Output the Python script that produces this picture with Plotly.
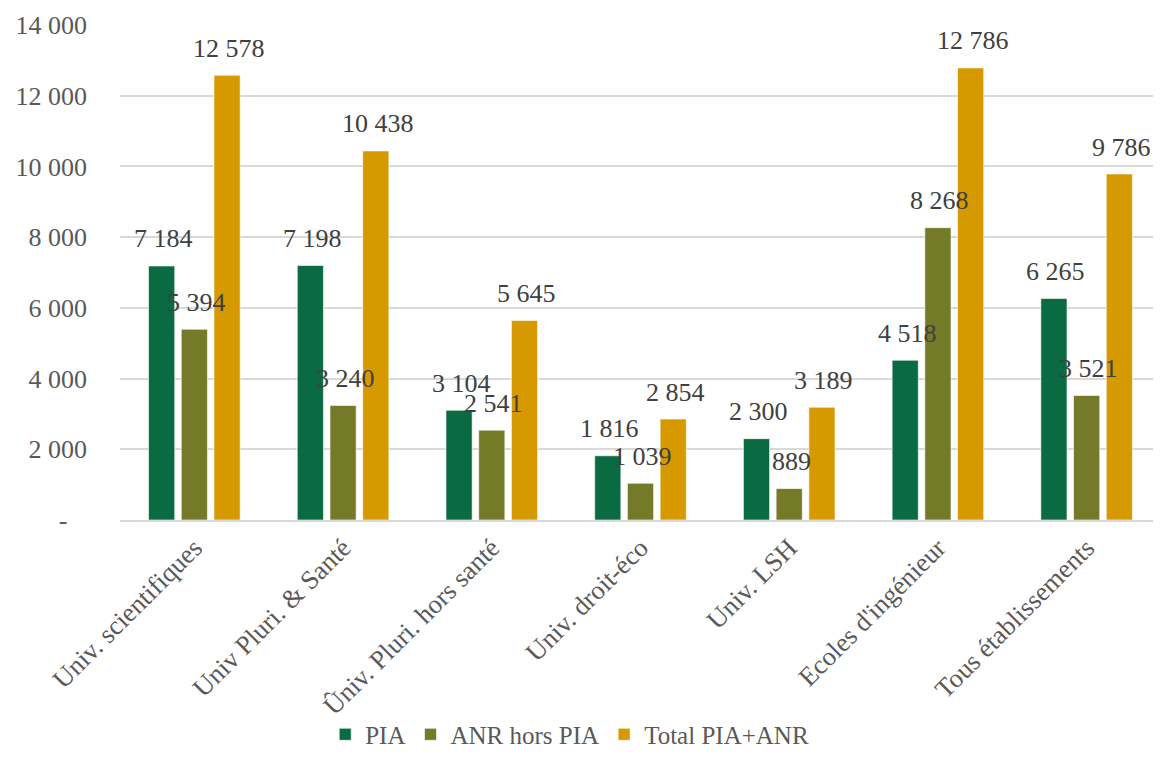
import plotly.graph_objects as go

categories = ["Univ. scientifiques", "Univ Pluri. & Santé", "Ûniv. Pluri. hors santé",
              "Univ. droit-éco", "Univ. LSH", "Ecoles d'ingénieur", "Tous établissements"]
pia = [7184, 7198, 3104, 1816, 2300, 4518, 6265]
anr = [5394, 3240, 2541, 1039, 889, 8268, 3521]
total = [12578, 10438, 5645, 2854, 3189, 12786, 9786]
series_names = ["PIA", "ANR hors PIA", "Total PIA+ANR"]
colors = ["#0a6b43", "#757a28", "#d69a00"]
tick_vals = [0, 2000, 4000, 6000, 8000, 10000, 12000, 14000]
tick_text = ["-\u00a0\u00a0\u00a0", "2 000", "4 000", "6 000", "8 000", "10 000", "12 000", "14 000"]

def fmt(v):
    return f"{v:,}".replace(",", " ")

FONT = "Liberation Serif"
FS = 26
# page body has an 8px margin; size the figure to fill the rest of the window
W, H = 1153, 758
ML, MR, MT, MB = 112, 0, 17, 246
BARGAP, GROUPGAP = 0.34, 0.2

fig = go.Figure()
for name, vals, col in zip(series_names, [pia, anr, total], colors):
    fig.add_trace(go.Bar(
        x=categories, y=vals, name=name,
        marker=dict(color=col, line=dict(color="rgba(255,255,255,0.6)", width=1)),
        hoverinfo="x+y",
    ))

# data labels on top of all bars (annotations drawn above traces)
cat_w = (W - ML - MR) / len(categories)
pitch = cat_w * (1 - BARGAP) / len(series_names)
annotations = []
for i, vals in enumerate([pia, anr, total]):
    for c, v in zip(categories, vals):
        annotations.append(dict(
            x=c, y=v, xref="x", yref="y", text=fmt(v), showarrow=False,
            xanchor="center", yanchor="middle", xshift=(i - 1) * pitch + 2, yshift=27,
            font=dict(family=FONT, size=FS, color="#404040"),
        ))

fig.update_layout(
    width=W, height=H,
    barmode="group", bargap=BARGAP, bargroupgap=GROUPGAP,
    plot_bgcolor="white", paper_bgcolor="white",
    margin=dict(l=ML, r=MR, t=MT, b=MB, autoexpand=False),
    font=dict(family=FONT, size=FS, color="#595959"),
    legend=dict(orientation="h", x=0.432, xanchor="center", y=-0.387, yanchor="top",
                bgcolor="rgba(0,0,0,0)",
                font=dict(family=FONT, size=25, color="#595959"), traceorder="normal",
                itemwidth=30),
    showlegend=True,
    annotations=annotations,
)
fig.update_yaxes(range=[0, 14000], tickvals=tick_vals, ticktext=tick_text,
                 showgrid=True, gridcolor="#d9d9d9", gridwidth=1.5, zeroline=False,
                 showline=False, ticks="", ticklabelstandoff=32, automargin=False,
                 tickfont=dict(family=FONT, size=FS, color="#595959"))
fig.update_xaxes(tickangle=-45, showline=True, linecolor="#d9d9d9", linewidth=1.5,
                 ticks="", automargin=False,
                 tickfont=dict(family=FONT, size=26.5, color="#595959"))

fig.write_html("out.html")
